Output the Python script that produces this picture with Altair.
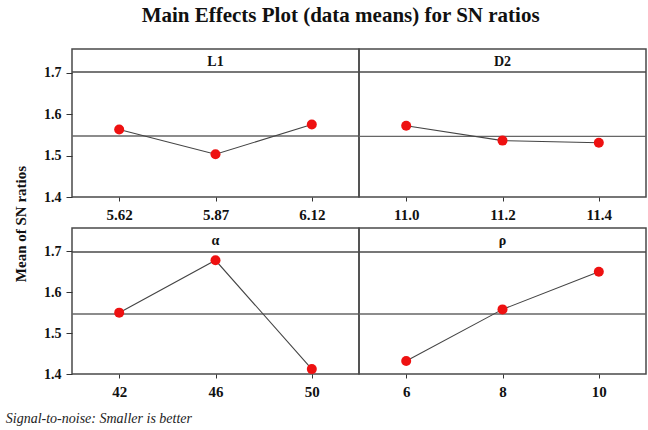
import altair as alt
import pandas as pd

TITLE = "Main Effects Plot (data means) for SN ratios"
Y_TITLE = "Mean of SN ratios"
FOOTNOTE = "Signal-to-noise: Smaller is better"

factor_names = ["L1", "D2", "α", "ρ"]

L1_levels = ["5.62", "5.87", "6.12"]
L1_means = [1.563, 1.503, 1.575]

D2_levels = ["11.0", "11.2", "11.4"]
D2_means = [1.572, 1.536, 1.531]

alpha_levels = ["42", "46", "50"]
alpha_means = [1.550, 1.678, 1.412]

rho_levels = ["6", "8", "10"]
rho_means = [1.432, 1.558, 1.650]

y_ticks = [1.4, 1.5, 1.6, 1.7]

FONT = "Liberation Serif"
W = 287
Y_DOMAIN = [1.4, 1.757]
BORDER = "#4a4a4a"


def panel(name, levels, means, show_y, h, strip_h):
    df = pd.DataFrame({"level": levels, "mean": means})
    base = alt.Chart(df)
    x = alt.X(
        "level:O",
        sort=levels,
        scale=alt.Scale(type="point", padding=0.49),
        axis=alt.Axis(
            title=None, labelAngle=0, domain=False, ticks=True, tickSize=4,
            tickColor="#333", labelPadding=6, labelFont=FONT,
            labelFontWeight="bold", labelFontSize=15, labelColor="#111",
        ),
    )
    if show_y:
        yaxis = alt.Axis(
            values=y_ticks, format=".1f", title=None, grid=False, domain=False,
            tickSize=6, tickColor="#333", labelPadding=5, labelFont=FONT,
            labelFontWeight="bold", labelFontSize=14, labelColor="#111",
        )
    else:
        yaxis = None
    yscale = alt.Scale(domain=Y_DOMAIN, nice=False, zero=False)
    y = alt.Y("mean:Q", scale=yscale, axis=yaxis)
    mean_rule = base.mark_rule(color="#666", strokeWidth=1.4).encode(
        y=alt.Y("mean(mean):Q", scale=yscale, axis=yaxis)
    )
    line = base.mark_line(color="#444", strokeWidth=1.1).encode(x=x, y=y)
    pts = base.mark_circle(color="#ee1111", opacity=1, size=100).encode(x=x, y=y)
    hdr_df = pd.DataFrame({"f": [name]})
    strip = alt.Chart(hdr_df).mark_rule(color=BORDER, strokeWidth=1.5).encode(
        x=alt.value(0), x2=alt.value(W), y=alt.value(strip_h)
    )
    label = alt.Chart(hdr_df).mark_text(
        font=FONT, fontWeight="bold", fontSize=14, color="#111", baseline="middle"
    ).encode(text="f:N", x=alt.value(W / 2), y=alt.value(strip_h / 2 + 1))
    return alt.layer(mean_rule, strip, label, line, pts).properties(width=W, height=h)


row1 = alt.hconcat(
    panel(factor_names[0], L1_levels, L1_means, True, 148, 23),
    panel(factor_names[1], D2_levels, D2_means, False, 148, 23),
    spacing=0,
    bounds="flush",
)
row2 = alt.hconcat(
    panel(factor_names[2], alpha_levels, alpha_means, True, 146, 24),
    panel(factor_names[3], rho_levels, rho_means, False, 146, 24),
    spacing=0,
    bounds="flush",
)

inner = alt.vconcat(row1, row2, spacing=4).properties(
    title=alt.TitleParams(
        Y_TITLE, orient="left", anchor="middle", font=FONT, fontWeight="bold",
        fontSize=15, color="#111", offset=14,
    )
)
mid = alt.vconcat(inner).properties(
    title=alt.TitleParams(
        FOOTNOTE, orient="bottom", anchor="start", font=FONT, fontStyle="italic",
        fontWeight="normal", fontSize=14, color="#222", offset=12, dx=-8,
    )
)
chart = alt.vconcat(mid).properties(
    title=alt.TitleParams(
        TITLE, anchor="middle", font=FONT, fontWeight="bold", fontSize=21,
        color="#111", offset=22, dx=14,
    ),
    padding={"left": 5, "top": 5, "right": 0, "bottom": 4},
    background="white",
).configure_view(stroke=BORDER, strokeWidth=1.5)

chart.save("out.html", embed_options={"renderer": "svg", "actions": False})
